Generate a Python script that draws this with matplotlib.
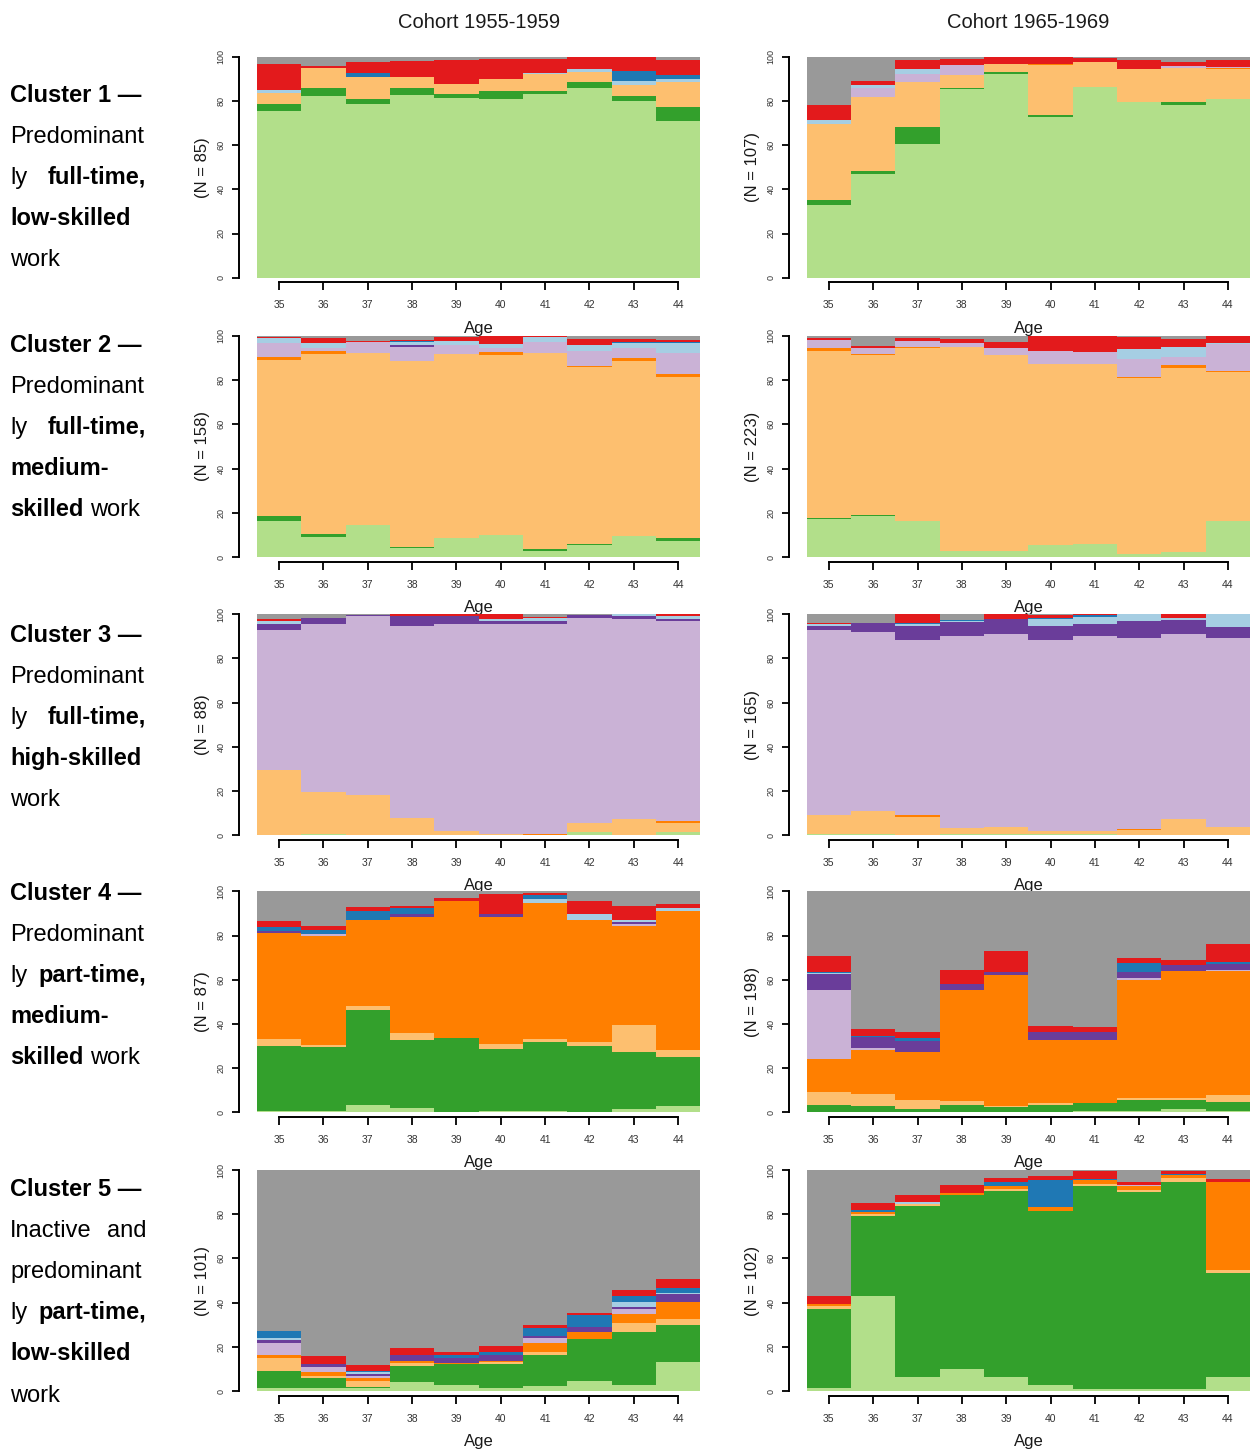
import matplotlib
matplotlib.use("Agg")
import matplotlib.pyplot as plt
import numpy as np

plt.rcParams["font.family"] = ["Liberation Sans", "DejaVu Sans"]

W, H = 1251, 1452

ages = [35, 36, 37, 38, 39, 40, 41, 42, 43, 44]
state_colors = ["#B2DF8A", "#33A02C", "#FDBF6F", "#FF7F00", "#CAB2D6",
                "#6A3D9A", "#A6CEE3", "#1F78B4", "#E31A1C", "#999999"]
cohort_titles = ["Cohort 1955-1959", "Cohort 1965-1969"]

# rows follow state_colors order (bottom to top), columns are ages 35..44, in %
c1_1955 = [
    [75.5, 82.0, 78.7, 82.5, 81.1, 80.7, 83.3, 85.8, 80.0, 70.9],
    [3.1, 3.8, 2.0, 3.3, 2.2, 3.9, 1.3, 2.6, 2.0, 6.3],
    [5.1, 9.2, 10.3, 5.2, 4.5, 5.1, 7.4, 4.5, 5.0, 11.3],
    [0, 0, 0, 0, 0, 0, 0, 0, 0, 0],
    [0, 0, 0, 0, 0, 0, 0, 0, 0, 0],
    [0, 0, 0, 0, 0, 0, 0, 0, 0, 0],
    [1.4, 0, 0, 0, 0, 0, 0.5, 1.4, 2.0, 1.2],
    [0, 0, 1.5, 0, 0, 0, 0, 0, 4.5, 1.8],
    [11.7, 1.0, 4.9, 7.0, 10.7, 9.1, 6.3, 5.7, 6.5, 7.1],
    [3.2, 4.0, 2.6, 2.0, 1.5, 1.2, 1.2, 0, 0, 1.4],
]
c1_1965 = [
    [32.7, 46.8, 60.3, 85.2, 92.3, 72.9, 86.4, 79.3, 78.1, 80.7],
    [2.4, 1.3, 7.9, 0.8, 0.8, 0.7, 0, 0, 1.2, 0],
    [34.4, 33.8, 20.3, 5.6, 3.7, 22.5, 11.2, 15.0, 15.8, 13.6],
    [0, 0, 0, 0, 0, 0.7, 0, 0, 0, 0.6],
    [0, 4.1, 3.8, 4.5, 0, 0, 0, 0, 0.5, 0.6],
    [0, 0, 0, 0, 0, 0, 0, 0, 0, 0],
    [2.0, 1.2, 2.0, 0, 0, 0, 0, 0, 0, 0],
    [0, 0, 0, 0, 0, 0, 0, 0, 0, 0],
    [6.5, 1.6, 4.2, 3.0, 3.2, 3.2, 1.8, 4.2, 2.0, 3.1],
    [22.0, 11.2, 1.5, 0.9, 0, 0, 0.6, 1.5, 2.4, 1.4],
]
c2_1955 = [
    [16.3, 9.2, 14.5, 3.9, 8.6, 9.8, 2.7, 5.3, 9.4, 7.1],
    [2.1, 1.4, 0, 0.8, 0, 0, 0.8, 0.7, 0, 1.4],
    [70.9, 81.2, 77.9, 84.0, 83.2, 81.6, 88.9, 79.8, 79.3, 73.1],
    [1.2, 1.4, 0, 0, 0, 1.2, 0, 0.8, 1.5, 1.3],
    [6.2, 1.2, 4.7, 6.5, 4.0, 1.8, 4.7, 6.6, 4.4, 9.5],
    [0, 0, 0, 0.9, 0, 0, 0, 0, 0, 0],
    [2.3, 2.3, 0, 1.1, 1.9, 2.1, 2.6, 2.6, 2.1, 4.3],
    [0, 0, 0, 0.5, 0, 0, 0, 0, 0.7, 0.4],
    [0.7, 2.3, 0.5, 0.6, 2.0, 3.5, 0.3, 2.7, 1.4, 1.1],
    [0.3, 1.0, 2.4, 1.7, 0.3, 0, 0, 1.5, 1.2, 1.8],
]
c2_1965 = [
    [17.2, 18.7, 16.3, 2.9, 2.9, 5.3, 5.9, 1.4, 2.1, 16.3],
    [0.5, 0.5, 0, 0, 0, 0, 0, 0, 0, 0],
    [75.5, 72.2, 78.4, 92.3, 88.5, 82.2, 81.6, 79.7, 83.5, 67.2],
    [1.2, 0.6, 0.5, 0, 0, 0, 0, 0.5, 1.1, 0.8],
    [3.8, 2.4, 2.5, 1.5, 3.0, 5.9, 5.1, 7.8, 3.9, 12.1],
    [0, 0, 0, 0, 0, 0, 0, 0, 0, 0],
    [0, 0, 0, 0, 0, 0, 0, 4.6, 4.6, 0.3],
    [0, 0, 0, 0, 0, 0, 0, 0, 0, 0],
    [0.9, 1.2, 1.3, 1.8, 2.7, 6.6, 7.4, 5.7, 3.3, 3.3],
    [0.9, 4.4, 1.0, 1.5, 2.9, 0, 0, 0.3, 1.5, 0],
]
c3_1955 = [
    [0, 0.8, 0, 0, 0, 0, 0, 1.4, 0, 1.4],
    [0, 0, 0, 0, 0, 0, 0, 0, 0, 0],
    [29.4, 18.8, 18.4, 8.0, 2.1, 0.8, 0, 4.0, 7.4, 4.0],
    [0, 0, 0, 0, 0, 0, 0.8, 0, 0, 1.1],
    [63.7, 76.2, 80.8, 86.9, 93.7, 94.8, 94.8, 93.1, 90.3, 90.6],
    [2.7, 2.7, 0.6, 4.3, 3.4, 1.2, 1.2, 1.2, 1.5, 0.6],
    [1.0, 0, 0, 0, 0, 1.1, 1.7, 0, 0.8, 1.4],
    [0, 0, 0, 0, 0, 0, 0, 0, 0, 0],
    [0.9, 0, 0, 0.8, 0.8, 2.1, 0.5, 0, 0, 0.9],
    [2.3, 1.5, 0.2, 0, 0, 0, 1.0, 0.3, 0, 0],
]
c3_1965 = [
    [0.6, 0.6, 0, 0.8, 0.6, 0.8, 0.8, 0, 0, 0],
    [0, 0, 0, 0, 0, 0, 0, 0, 0, 0],
    [8.4, 10.4, 8.4, 2.5, 3.3, 1.3, 1.3, 2.4, 7.4, 3.8],
    [0, 0, 0.9, 0, 0, 0, 0, 0.6, 0, 0],
    [83.8, 81.2, 79.1, 86.9, 87.2, 86.3, 88.1, 86.5, 83.7, 85.7],
    [2.1, 4.0, 6.5, 6.2, 6.9, 6.5, 5.3, 7.5, 6.3, 4.6],
    [0.6, 0, 0.6, 0.6, 0, 3.0, 3.4, 3.0, 0.8, 5.9],
    [0, 0, 0.4, 0.6, 0, 0.3, 0.6, 0, 0, 0],
    [0.7, 0, 4.1, 0, 2.0, 1.3, 0.5, 0, 1.8, 0],
    [3.8, 3.8, 0, 2.4, 0, 0.5, 0, 0, 0, 0],
]
c4_1955 = [
    [0.6, 0.6, 3.3, 2.1, 0.2, 0.6, 0.6, 0.2, 1.5, 2.7],
    [29.2, 28.8, 42.9, 30.4, 33.2, 28.2, 31.3, 29.6, 25.8, 22.1],
    [3.5, 1.2, 1.8, 3.5, 0, 1.9, 1.4, 2.1, 12.3, 3.5],
    [47.7, 49.4, 39.2, 52.4, 62.2, 57.7, 61.6, 55.3, 44.9, 62.8],
    [0.3, 0.6, 0, 0, 0, 0, 0, 0, 0.9, 0],
    [0.9, 0, 0, 1.2, 0, 1.2, 0, 0, 0.9, 0],
    [0, 0, 0, 0, 0, 0, 1.5, 2.4, 0.9, 1.2],
    [1.8, 1.9, 3.9, 2.7, 0, 0, 1.9, 0, 0, 0],
    [2.4, 2.0, 1.8, 1.2, 1.2, 9.0, 1.1, 6.0, 6.3, 1.8],
    [13.6, 15.5, 7.1, 6.5, 3.2, 1.4, 0.6, 4.4, 6.5, 5.9],
]
c4_1965 = [
    [0, 0, 0, 0, 0, 0, 0.5, 0.8, 1.5, 0.8],
    [3.3, 2.9, 1.5, 3.3, 2.4, 3.5, 3.6, 4.9, 4.2, 3.9],
    [5.9, 5.5, 4.2, 2.0, 0.5, 0.7, 0, 0.8, 0.8, 3.3],
    [15.1, 20.0, 21.8, 50.1, 59.1, 28.5, 28.6, 53.4, 57.3, 55.8],
    [31.1, 0.7, 0, 0, 0, 0, 0, 0.7, 0, 0.8],
    [7.2, 4.8, 4.9, 2.7, 1.5, 3.5, 3.5, 2.9, 3.0, 2.5],
    [0.4, 0, 0, 0, 0, 0, 0, 0, 0, 0],
    [0.5, 0.8, 1.2, 0, 0, 0, 0, 4.2, 0, 0.8],
    [7.4, 3.0, 2.9, 6.3, 9.4, 3.0, 2.3, 2.1, 2.1, 8.3],
    [29.1, 62.3, 63.5, 35.6, 27.1, 60.8, 61.5, 30.2, 31.1, 23.8],
]
c5_1955 = [
    [1.4, 1.2, 1.2, 4.1, 2.7, 1.5, 2.3, 4.7, 2.9, 13.1],
    [7.8, 4.8, 0.8, 7.0, 9.3, 10.8, 14.0, 18.9, 23.9, 16.7],
    [5.9, 0.6, 2.5, 1.7, 0.3, 1.0, 1.3, 0, 3.9, 2.7],
    [1.2, 2.0, 1.5, 0.9, 0.5, 0.4, 3.9, 3.1, 4.2, 7.7],
    [5.2, 2.1, 0.8, 0, 0, 0, 2.6, 0, 2.3, 0],
    [1.4, 1.6, 0.9, 2.6, 2.3, 2.6, 0.7, 2.4, 0.6, 3.5],
    [1.2, 0, 0.9, 0, 0, 0, 0, 0, 2.4, 0.7],
    [3.2, 0, 0.6, 0, 1.2, 1.5, 3.8, 5.5, 2.7, 2.0],
    [0, 3.4, 2.7, 3.3, 1.5, 2.5, 1.2, 0.5, 2.6, 4.4],
    [72.7, 84.3, 88.1, 80.4, 82.2, 79.7, 70.2, 64.9, 54.5, 49.2],
]
c5_1965 = [
    [1.4, 42.8, 6.5, 9.8, 6.5, 2.7, 0.8, 0.8, 0.8, 6.5],
    [35.5, 36.6, 77.1, 79.1, 84.2, 78.6, 92.1, 89.4, 93.8, 46.7],
    [1.5, 0.9, 1.2, 0, 0.7, 0, 0.8, 0.6, 1.9, 1.5],
    [1.1, 0.7, 0, 0.6, 1.5, 2.0, 1.6, 1.8, 1.1, 40.0],
    [0, 0, 0, 0, 0, 0, 0, 0.8, 0, 0],
    [0, 0, 0, 0, 0, 0, 0, 0, 0, 0],
    [0, 0, 0.6, 0, 0, 0, 0, 0, 0, 0],
    [0, 0.8, 0, 0, 1.7, 12.0, 0.8, 0, 0.7, 0],
    [3.3, 3.1, 3.3, 3.7, 1.9, 2.1, 3.3, 1.3, 1.2, 1.2],
    [57.2, 15.1, 11.3, 6.8, 3.5, 2.6, 0.6, 5.3, 0.5, 4.1],
]

panels = [
    (c1_1955, 85, c1_1965, 107),
    (c2_1955, 158, c2_1965, 223),
    (c3_1955, 88, c3_1965, 165),
    (c4_1955, 87, c4_1965, 198),
    (c5_1955, 101, c5_1965, 102),
]

# left-hand descriptions: each line is a list of (text, bold); "|" splits justified lines
cluster_texts = [
    [[("Cluster 1 \u2014", True)], [("Predominant", False)],
     [("ly", False), ("|", None), ("full-time,", True)],
     [("low-skilled", True)], [("work", False)]],
    [[("Cluster 2 \u2014", True)], [("Predominant", False)],
     [("ly", False), ("|", None), ("full-time,", True)],
     [("medium-", True)], [("skilled", True), ("work", False)]],
    [[("Cluster 3 \u2014", True)], [("Predominant", False)],
     [("ly", False), ("|", None), ("full-time,", True)],
     [("high-skilled", True)], [("work", False)]],
    [[("Cluster 4 \u2014", True)], [("Predominant", False)],
     [("ly", False), ("|", None), ("part-time,", True)],
     [("medium-", True)], [("skilled", True), ("work", False)]],
    [[("Cluster 5 \u2014", True)], [("Inactive", False), ("|", None), ("and", False)],
     [("predominant", False)],
     [("ly", False), ("|", None), ("part-time,", True)],
     [("low-skilled", True)], [("work", False)]],
]


def draw_panel(ax, shares, n):
    shares = np.asarray(shares, dtype=float)
    bottom = np.zeros(len(ages))
    for row, color in zip(shares, state_colors):
        ax.bar(ages, row, bottom=bottom, width=1.0, color=color, linewidth=0)
        bottom += row
    ax.set_xlim(34.5, 44.5)
    ax.set_ylim(0, 100)
    ax.spines["top"].set_visible(False)
    ax.spines["right"].set_visible(False)
    ax.spines["left"].set_position(("outward", 13))
    ax.spines["left"].set_bounds(0, 100)
    ax.spines["bottom"].set_position(("outward", 3.3))
    ax.spines["bottom"].set_bounds(35, 44)
    for s in ("left", "bottom"):
        ax.spines[s].set_linewidth(1.4)
    ax.set_yticks([0, 20, 40, 60, 80, 100])
    ax.set_xticks(ages)
    ax.tick_params(axis="y", length=5, width=1.3, labelsize=6.5, pad=4.5,
                   labelrotation=90, labelcolor="#333333")
    for lab in ax.get_yticklabels():
        lab.set_va("center")
    ax.tick_params(axis="x", length=5.5, width=1.3, labelsize=7.5, pad=7.5,
                   labelcolor="#333333")
    ax.text(0.5, -0.228, "Age", transform=ax.transAxes, ha="center", va="center",
            fontsize=12, color="#1a1a1a")
    ax.text(-0.122, 0.5, f"(N = {n})", transform=ax.transAxes, ha="center", va="center",
            rotation=90, fontsize=12, color="#1a1a1a")


fig = plt.figure(figsize=(W / 100, H / 100), dpi=100)

row_tops = [56.7, 336.0, 614.3, 891.3, 1170.0]
row_h = 221.0
col_lefts = [257.0, 806.7]
col_w = 443.3

for r, (sh_a, n_a, sh_b, n_b) in enumerate(panels):
    for c, (sh, n) in enumerate([(sh_a, n_a), (sh_b, n_b)]):
        top = row_tops[r]
        ax = fig.add_axes([col_lefts[c] / W, 1 - (top + row_h) / H, col_w / W, row_h / H])
        draw_panel(ax, sh, n)

for c, title in enumerate(cohort_titles):
    fig.text((col_lefts[c] + col_w / 2) / W, 1 - 28.3 / H, title, ha="center",
             va="baseline", fontsize=14.5, color="#1a1a1a")

# left text block
renderer = fig.canvas.get_renderer()
first_baselines = [101.5, 351.5, 641.5, 899.5, 1195.5]
line_gap = 41.2
x_left, x_right = 10, 146
for r, lines in enumerate(cluster_texts):
    for i, parts in enumerate(lines):
        yb = 1 - (first_baselines[r] + i * line_gap) / H
        if any(p[1] is None for p in parts):
            (t1, b1), _, (t2, b2) = parts
            fig.text(x_left / W, yb, t1, ha="left", va="baseline", fontsize=17,
                     fontweight="bold" if b1 else "normal")
            fig.text(x_right / W, yb, t2, ha="right", va="baseline", fontsize=17,
                     fontweight="bold" if b2 else "normal")
        else:
            x = x_left
            for txt, bold in parts:
                t = fig.text(x / W, yb, txt, ha="left", va="baseline", fontsize=17,
                             fontweight="bold" if bold else "normal")
                x += t.get_window_extent(renderer).width + 6.6

fig.savefig("out.png", dpi=100)
